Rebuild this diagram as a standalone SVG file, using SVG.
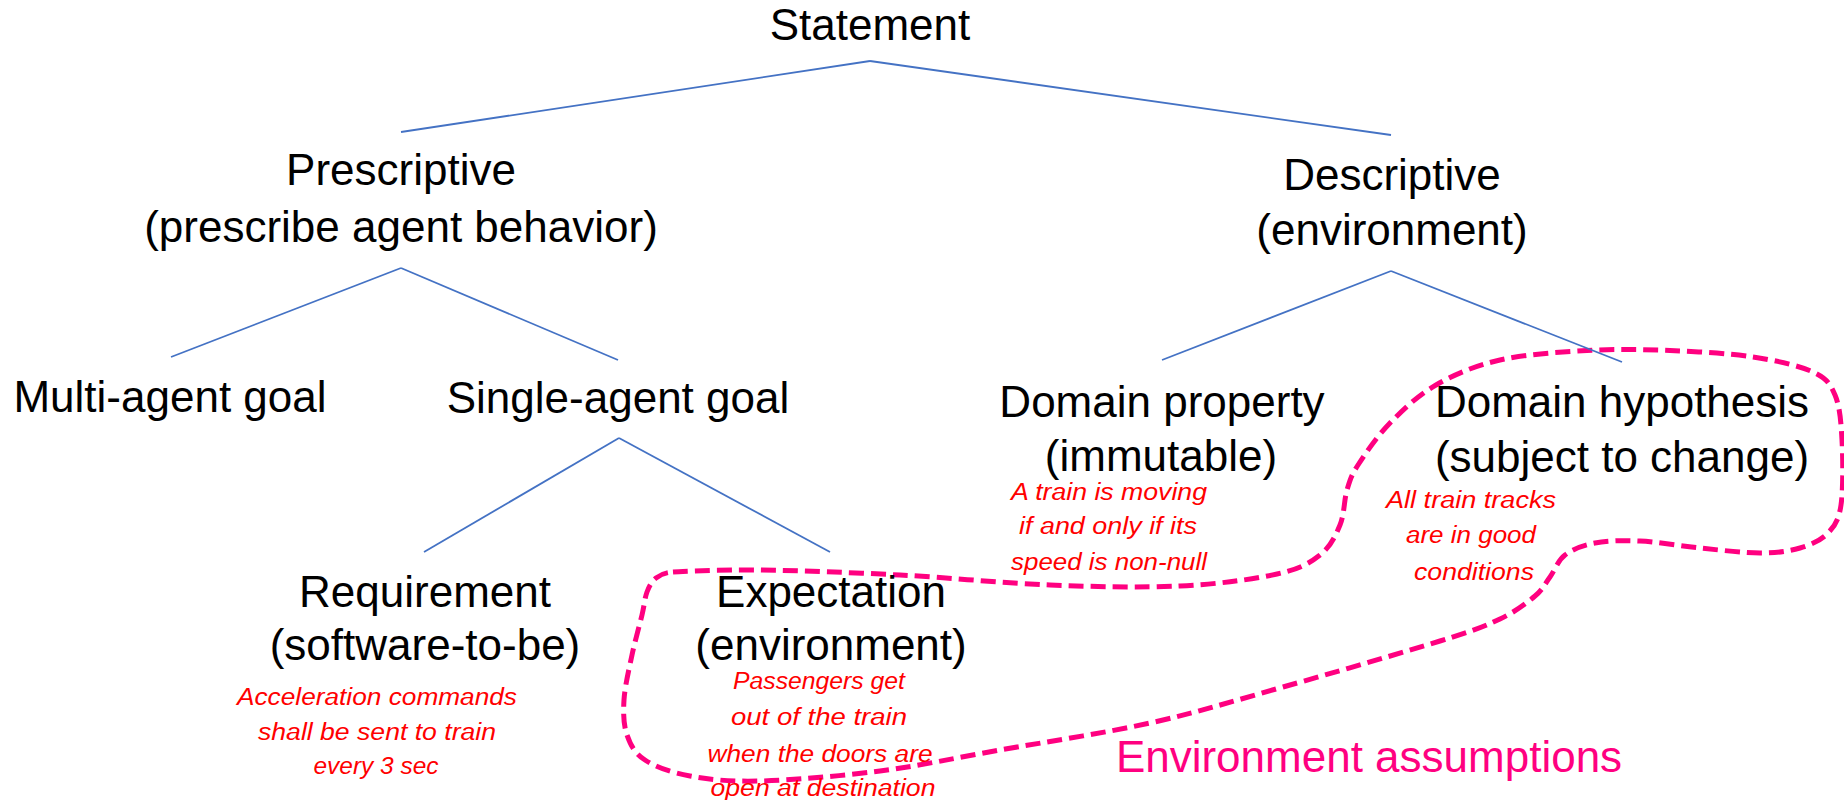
<svg xmlns="http://www.w3.org/2000/svg" width="1844" height="800" viewBox="0 0 1844 800">
<style>
.lbl{font-family:"Liberation Sans",Arial,sans-serif;font-size:44px;fill:#000;text-anchor:middle}
.ex{font-family:"Liberation Sans",Arial,sans-serif;font-size:23px;font-style:italic;fill:#FF0000;text-anchor:middle}
.env{font-family:"Liberation Sans",Arial,sans-serif;font-size:44px;fill:#FF0080;text-anchor:middle}
.edge{stroke:#4472C4;stroke-width:1.8;fill:none}
.boundary{stroke:#FF0080;stroke-width:5;fill:none;stroke-dasharray:15 7}
</style>
<rect width="1844" height="800" fill="#FFFFFF"/>
<g id="env-assumptions">
<path class="boundary" d="M 673,572 C 681,571.4 722.2,569.5 760,570 S 851.7,572.5 900,575 S 1003.3,583.2 1050,585 S 1142.2,587.8 1180,586 S 1253.7,579.2 1277,574 S 1309.5,563.2 1320,555 S 1335.5,535.8 1340,525 S 1344,500 1347,490 S 1350.8,476.2 1358,465 S 1377,436.3 1390,423 S 1417.7,395.5 1436,385 S 1474.8,365.75 1500,360 S 1558.7,352.1 1587,350.5 S 1642.3,349.4 1670,350.5 S 1729.2,353.4 1753,357 S 1799.3,365.7 1813,372 S 1830.2,383.7 1835,395 S 1841,421.7 1842,440 S 1843.3,489.5 1841,505 S 1834.8,525.8 1828,533 S 1811.3,544.7 1800,548 S 1776.7,553 1760,553 S 1720,550 1700,548 S 1657.5,541.8 1640,541 S 1607.5,540.7 1595,543 S 1572.5,549.3 1565,555 S 1555,570.2 1550,577 S 1543.3,589 1535,596 S 1515.8,611.5 1500,619 S 1476.2,629.7 1440,641 S 1331.3,673.3 1283,687 S 1197.2,712.5 1150,723 S 1045,742 1000,750 S 920,765.8 880,771 S 791.7,780.2 760,781 S 709.2,779.5 690,776 S 655.5,766.8 645,760 S 630.5,745 627,735 S 623.2,713.3 624,700 S 629,669.2 632,655 S 639.5,625.5 642,615 S 644.7,598.2 647,592 S 651.7,581.3 656,578 S 665,572.6 673,572 Z"/>
<text class="env" x="1369" y="772">Environment assumptions</text>
</g>
<g id="connectors">
<line class="edge" x1="870" y1="61" x2="401" y2="132"/>
<line class="edge" x1="870" y1="61" x2="1391" y2="135"/>
<line class="edge" x1="401" y1="268" x2="171" y2="357"/>
<line class="edge" x1="401" y1="268" x2="618" y2="360"/>
<line class="edge" x1="1391" y1="271" x2="1162" y2="360"/>
<line class="edge" x1="1391" y1="271" x2="1622" y2="362"/>
<line class="edge" x1="619" y1="438" x2="424" y2="552"/>
<line class="edge" x1="619" y1="438" x2="830" y2="552"/>
</g>
<g id="statement">
<text class="lbl" x="870" y="40">Statement</text>
</g>
<g id="prescriptive">
<text class="lbl" x="401" y="185">Prescriptive</text>
<text class="lbl" x="401" y="242">(prescribe agent behavior)</text>
</g>
<g id="descriptive">
<text class="lbl" x="1392" y="190">Descriptive</text>
<text class="lbl" x="1392" y="245">(environment)</text>
</g>
<g id="multi-agent-goal">
<text class="lbl" x="170" y="412">Multi-agent goal</text>
</g>
<g id="single-agent-goal">
<text class="lbl" x="618" y="413">Single-agent goal</text>
</g>
<g id="domain-property">
<text class="lbl" x="1162" y="417">Domain property</text>
<text class="lbl" x="1161" y="471">(immutable)</text>
<text class="ex" x="1109" y="500" textLength="196" lengthAdjust="spacingAndGlyphs">A train is moving</text>
<text class="ex" x="1108" y="534" textLength="178" lengthAdjust="spacingAndGlyphs">if and only if its</text>
<text class="ex" x="1109" y="570" textLength="196" lengthAdjust="spacingAndGlyphs">speed is non-null</text>
</g>
<g id="domain-hypothesis">
<text class="lbl" x="1622" y="417">Domain hypothesis</text>
<text class="lbl" x="1622" y="472">(subject to change)</text>
<text class="ex" x="1471" y="508" textLength="170" lengthAdjust="spacingAndGlyphs">All train tracks</text>
<text class="ex" x="1471" y="543" textLength="130" lengthAdjust="spacingAndGlyphs">are in good</text>
<text class="ex" x="1474" y="580" textLength="120" lengthAdjust="spacingAndGlyphs">conditions</text>
</g>
<g id="requirement">
<text class="lbl" x="425" y="607">Requirement</text>
<text class="lbl" x="425" y="660">(software-to-be)</text>
<text class="ex" x="377" y="705" textLength="280" lengthAdjust="spacingAndGlyphs">Acceleration commands</text>
<text class="ex" x="377" y="740" textLength="238" lengthAdjust="spacingAndGlyphs">shall be sent to train</text>
<text class="ex" x="376" y="774" textLength="125" lengthAdjust="spacingAndGlyphs">every 3 sec</text>
</g>
<g id="expectation">
<text class="lbl" x="831" y="607">Expectation</text>
<text class="lbl" x="831" y="660">(environment)</text>
<text class="ex" x="819" y="689" textLength="172" lengthAdjust="spacingAndGlyphs">Passengers get</text>
<text class="ex" x="819" y="725" textLength="176" lengthAdjust="spacingAndGlyphs">out of the train</text>
<text class="ex" x="820" y="762" textLength="225" lengthAdjust="spacingAndGlyphs">when the doors are</text>
<text class="ex" x="823" y="796" textLength="225" lengthAdjust="spacingAndGlyphs">open at destination</text>
</g>
</svg>
